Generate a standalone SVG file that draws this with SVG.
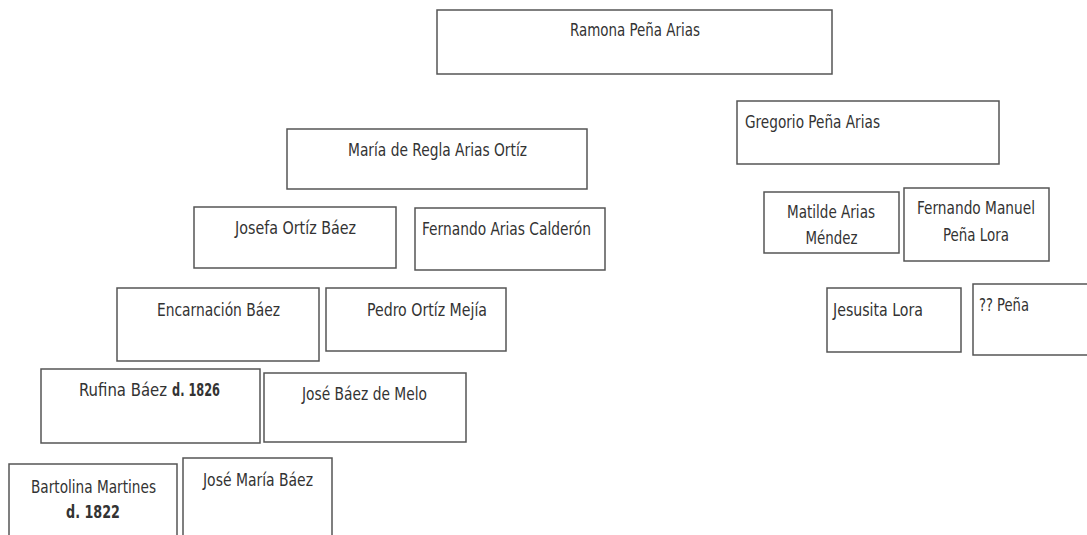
<svg xmlns="http://www.w3.org/2000/svg" width="1087" height="535" viewBox="0 0 1087 535">
<style>
.b{fill:#fff;stroke:#555;stroke-width:1.5}
text{font-family:"DejaVu Sans Condensed","DejaVu Sans",sans-serif;font-size:17px;fill:#333}
.c{text-anchor:middle}
.bd{font-weight:bold}
</style>
<rect width="1087" height="535" fill="#fff"/>
<g id="connectors"></g>
<g id="ramona"><rect class="b" x="437" y="10" width="395" height="64"/><text class="c" x="635" y="36" textLength="130" lengthAdjust="spacingAndGlyphs">Ramona Peña Arias</text></g>
<g id="gregorio"><rect class="b" x="737" y="101" width="262" height="63"/><text x="745" y="128" textLength="135" lengthAdjust="spacingAndGlyphs">Gregorio Peña Arias</text></g>
<g id="maria"><rect class="b" x="287" y="129" width="300" height="60"/><text class="c" x="437.5" y="156" textLength="179" lengthAdjust="spacingAndGlyphs">María de Regla Arias Ortíz</text></g>
<g id="matilde"><rect class="b" x="764" y="192" width="135" height="61"/><text class="c" x="831" y="218" textLength="88" lengthAdjust="spacingAndGlyphs">Matilde Arias</text><text class="c" x="831.5" y="244" textLength="52" lengthAdjust="spacingAndGlyphs">Méndez</text></g>
<g id="fernando-manuel"><rect class="b" x="904" y="188" width="145" height="73"/><text class="c" x="976" y="214" textLength="118" lengthAdjust="spacingAndGlyphs">Fernando Manuel</text><text class="c" x="976" y="241" textLength="66" lengthAdjust="spacingAndGlyphs">Peña Lora</text></g>
<g id="josefa"><rect class="b" x="194" y="207" width="202" height="61"/><text class="c" x="295.5" y="234" textLength="121" lengthAdjust="spacingAndGlyphs">Josefa Ortíz Báez</text></g>
<g id="fernando-arias"><rect class="b" x="415" y="208" width="190" height="62"/><text x="422" y="235" textLength="169" lengthAdjust="spacingAndGlyphs">Fernando Arias Calderón</text></g>
<g id="encarnacion"><rect class="b" x="117" y="288" width="202" height="73"/><text class="c" x="218.5" y="316" textLength="123" lengthAdjust="spacingAndGlyphs">Encarnación Báez</text></g>
<g id="pedro"><rect class="b" x="326" y="288" width="180" height="63"/><text class="c" x="427" y="316" textLength="120" lengthAdjust="spacingAndGlyphs">Pedro Ortíz Mejía</text></g>
<g id="jesusita"><rect class="b" x="827" y="288" width="134" height="64"/><text x="833" y="316" textLength="90" lengthAdjust="spacingAndGlyphs">Jesusita Lora</text></g>
<g id="pena"><rect class="b" x="973" y="284" width="120" height="71"/><text x="979" y="311" textLength="50" lengthAdjust="spacingAndGlyphs">?? Peña</text></g>
<g id="rufina"><rect class="b" x="41" y="369" width="219" height="74"/><text x="79" y="396" textLength="88" lengthAdjust="spacingAndGlyphs">Rufina Báez</text><text class="bd" x="172" y="396" textLength="48" lengthAdjust="spacingAndGlyphs">d. 1826</text></g>
<g id="jose-baez"><rect class="b" x="264" y="373" width="202" height="69"/><text class="c" x="364.5" y="400" textLength="125" lengthAdjust="spacingAndGlyphs">José Báez de Melo</text></g>
<g id="bartolina"><rect class="b" x="9" y="464" width="168" height="80"/><text class="c" x="93.5" y="493" textLength="125" lengthAdjust="spacingAndGlyphs">Bartolina Martines</text><text class="c bd" x="93" y="518" textLength="54" lengthAdjust="spacingAndGlyphs">d. 1822</text></g>
<g id="jose-maria"><rect class="b" x="183" y="458" width="149" height="86"/><text class="c" x="258" y="486" textLength="110" lengthAdjust="spacingAndGlyphs">José María Báez</text></g>
</svg>
